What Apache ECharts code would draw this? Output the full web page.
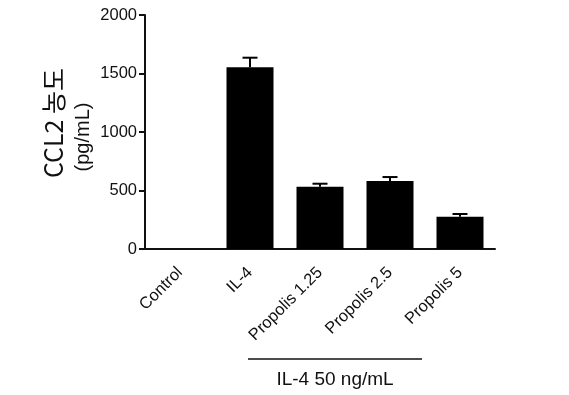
<!DOCTYPE html>
<html><head><meta charset="utf-8">
<script src="https://cdn.jsdelivr.net/npm/echarts@6/dist/echarts.min.js"></script>
<style>html,body{margin:0;padding:0;background:#fff}#c{width:569px;height:395px}</style>
</head><body><div id="c"></div>
<script>
const categories = ['Control', 'IL-4', 'Propolis 1.25', 'Propolis 2.5', 'Propolis 5'];
const means = [0, 1553, 532, 581, 276];
const upper = [0, 1635, 558, 615, 299];
const yTicks = [0, 500, 1000, 1500, 2000];

const chart = echarts.init(document.getElementById('c'));
const font = 'Liberation Sans, Arial, sans-serif';
chart.setOption({
  animation: false,
  grid: { left: 145, right: 74, top: 15, bottom: 146 },
  xAxis: {
    type: 'category', data: categories,
    axisLine: { lineStyle: { color: '#111', width: 2 } },
    axisTick: { alignWithLabel: true, length: 6, lineStyle: { color: '#111', width: 2 } },
    axisLabel: { rotate: 45, fontSize: 16.5, color: '#111', fontFamily: font, margin: 21 }
  },
  yAxis: {
    type: 'value', min: 0, max: 2000, interval: 500,
    axisLine: { show: true, lineStyle: { color: '#111', width: 2 } },
    axisTick: { show: true, length: 6, lineStyle: { color: '#111', width: 2 } },
    splitLine: { show: false },
    axisLabel: { fontSize: 16.5, color: '#111', fontFamily: font, margin: 8,
      formatter: v => yTicks.includes(v) ? String(v) : '' }
  },
  series: [
    { type: 'bar', data: means, barWidth: 47, itemStyle: { color: '#000' }, z: 2 },
    { type: 'custom', z: 3,
      data: categories.map((c, i) => [i, means[i], upper[i]]),
      renderItem: (params, api) => {
        if (api.value(2) <= api.value(1)) return null;
        const lo = api.coord([api.value(0), api.value(1)]);
        const hi = api.coord([api.value(0), api.value(2)]);
        const hw = 7.5;
        return { type: 'group', children: [
          { type: 'line', shape: { x1: hi[0], y1: hi[1], x2: lo[0], y2: lo[1] }, style: { stroke: '#000', lineWidth: 2 } },
          { type: 'line', shape: { x1: hi[0] - hw, y1: hi[1], x2: hi[0] + hw, y2: hi[1] }, style: { stroke: '#000', lineWidth: 2 } }
        ]};
      }
    }
  ],
  graphic: [
    { type: 'text', x: 53, y: 123, rotation: Math.PI / 2,
      style: { text: 'CCL2 농도', font: '25px "Noto Sans CJK KR", "Liberation Sans", sans-serif', fill: '#111', align: 'center', verticalAlign: 'middle' } },
    { type: 'text', x: 83, y: 137, rotation: Math.PI / 2,
      style: { text: '(pg/mL)', font: '20px "Liberation Sans", Arial, sans-serif', fill: '#111', align: 'center', verticalAlign: 'middle' } },
    { type: 'line', shape: { x1: 248, y1: 359, x2: 422, y2: 359 }, style: { stroke: '#111', lineWidth: 1.5 } },
    { type: 'text', x: 335, y: 380,
      style: { text: 'IL-4 50 ng/mL', font: '19px "Liberation Sans", Arial, sans-serif', fill: '#111', align: 'center', verticalAlign: 'middle' } }
  ]
});
</script></body></html>
